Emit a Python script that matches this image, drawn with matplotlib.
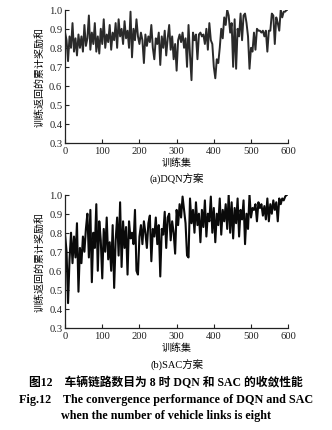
import matplotlib
matplotlib.use("Agg")
import matplotlib.pyplot as plt
import numpy as np

plt.rcParams['font.family'] = ['Liberation Serif', 'Noto Sans CJK SC']
plt.rcParams['font.size'] = 7.5

# episode grid (every 4 episodes)
episodes = np.arange(0, 601, 4)

dqn_reward = [
    0.88, 0.84, 0.73, 0.86, 0.80, 0.93, 0.78, 0.85, 0.76, 0.87,
    0.80, 0.86, 0.78, 0.92, 0.81, 0.85, 0.97, 0.79, 0.88, 0.82,
    0.93, 0.78, 0.86, 0.77, 0.90, 0.82, 0.95, 0.80, 0.87, 0.83,
    0.92, 0.79, 0.88, 0.84, 0.93, 0.80, 0.95, 0.86, 0.90, 0.82,
    0.94, 0.85, 0.89, 0.80, 0.99, 0.75, 0.90, 0.84, 0.95, 0.86,
    0.82, 0.88, 0.84, 0.72, 0.87, 0.81, 0.86, 0.83, 0.92, 0.80,
    0.74, 0.85, 0.82, 0.88, 0.71, 0.86, 0.80, 0.89, 0.76, 0.85,
    0.92, 0.79, 0.86, 0.74, 0.82, 0.68, 0.84, 0.87, 0.83, 0.88,
    0.80, 0.85, 0.70, 0.92, 0.76, 0.63, 0.88, 0.84, 0.87, 0.74,
    0.87, 0.88, 0.86, 0.87, 0.82, 0.90, 0.79, 0.93, 0.84, 0.82,
    0.70, 0.64, 0.74, 0.72, 0.80, 0.90, 0.85, 0.96, 0.92, 1.00,
    0.97, 0.88, 0.93, 0.70, 0.95, 0.69, 0.90, 0.86, 0.98, 0.84,
    0.97, 0.98, 0.93, 0.86, 0.69, 0.80, 0.78, 0.88, 0.79, 0.90,
    0.89, 0.89, 0.88, 0.89, 0.86, 0.89, 0.78, 0.89, 0.89, 0.98,
    0.97, 0.82, 0.96, 0.93, 0.89, 1.00, 0.96, 0.99, 0.99, 1.00,
    1.00,
]

sac_reward = [
    0.79, 0.70, 0.43, 0.66, 0.80, 0.64, 0.78, 0.67, 0.85, 0.49,
    0.72, 0.64, 0.78, 0.70, 0.82, 0.90, 0.67, 0.92, 0.54, 0.80,
    0.72, 0.95, 0.60, 0.86, 0.76, 0.56, 0.82, 0.70, 0.88, 0.66,
    0.75, 0.60, 0.84, 0.51, 0.76, 0.88, 0.68, 0.96, 0.62, 0.86,
    0.72, 0.83, 0.58, 0.86, 0.77, 0.80, 0.74, 0.92, 0.60, 0.58,
    0.78, 0.84, 0.74, 0.86, 0.80, 0.72, 0.85, 0.89, 0.65, 0.82,
    0.78, 0.88, 0.74, 0.84, 0.57, 0.82, 0.79, 0.91, 0.72, 0.88,
    0.90, 0.76, 0.86, 0.80, 0.69, 0.92, 0.84, 0.95, 0.88, 0.99,
    0.92, 0.85, 0.68, 0.67, 0.98, 0.85, 0.92, 0.80, 0.96, 0.84,
    0.90, 0.75, 0.92, 0.83, 0.97, 0.78, 0.90, 0.86, 0.99, 0.80,
    0.93, 0.75, 0.90, 0.84, 0.98, 0.79, 0.92, 0.86, 0.95, 0.82,
    1.00, 0.80, 0.96, 0.77, 0.93, 0.85, 0.98, 0.78, 0.92, 0.87,
    0.97, 0.74, 0.90, 0.82, 1.00, 0.88, 0.93, 0.92, 0.95, 0.86,
    0.96, 0.93, 0.95, 0.89, 0.94, 0.87, 0.98, 0.86, 0.95, 0.90,
    0.97, 0.92, 0.96, 0.86, 0.98, 0.95, 0.98, 0.97, 0.99, 1.00,
    1.00,
]

x_ticks = [0, 100, 200, 300, 400, 500, 600]
y_ticks = [0.3, 0.4, 0.5, 0.6, 0.7, 0.8, 0.9, 1.0]
y_label = "训练返回的累计奖励和"
x_label = "训练集"


def style_axes(ax):
    ax.set_xlim(0, 600)
    ax.set_ylim(0.3, 1.0)
    ax.set_xticks(x_ticks)
    ax.set_yticks(y_ticks)
    ax.set_yticklabels(["%.1f" % v for v in y_ticks])
    ax.spines['top'].set_visible(False)
    ax.spines['right'].set_visible(False)
    for s in ('left', 'bottom'):
        ax.spines[s].set_linewidth(0.9)
        ax.spines[s].set_color('#222222')
    ax.tick_params(direction='in', length=3, width=0.8, pad=2,
                   colors='#222222', labelsize=7.6)
    ax.set_xlabel(x_label, labelpad=2, fontsize=7.2)
    ax.set_ylabel(y_label, labelpad=3, fontsize=7.2)


fig = plt.figure(figsize=(3.32, 4.31), dpi=100)

ax1 = fig.add_axes([0.196, 0.666, 0.672, 0.309])
ax1.plot(episodes, dqn_reward, color='#2a2a2a', lw=1.4)
style_axes(ax1)

ax2 = fig.add_axes([0.196, 0.237, 0.672, 0.309])
ax2.plot(episodes, sac_reward, color='#0a0a0a', lw=1.5)
style_axes(ax2)

fig.text(0.533, 1 - 179 / 431, "(a)DQN方案", ha='center', va='center', fontsize=7.5)
fig.text(0.533, 1 - 365 / 431, "(b)SAC方案", ha='center', va='center', fontsize=7.5)

fig.text(0.5, 1 - 383 / 431, "图12    车辆链路数目为 8 时 DQN 和 SAC 的收敛性能",
         ha='center', va='center', fontsize=8.5, fontweight='bold')
fig.text(0.5, 1 - 400 / 431, "Fig.12    The convergence performance of DQN and SAC",
         ha='center', va='center', fontsize=8.7, fontweight='bold')
fig.text(0.5, 1 - 416 / 431, "when the number of vehicle links is eight",
         ha='center', va='center', fontsize=8.7, fontweight='bold')

fig.savefig("out.png", dpi=100)
